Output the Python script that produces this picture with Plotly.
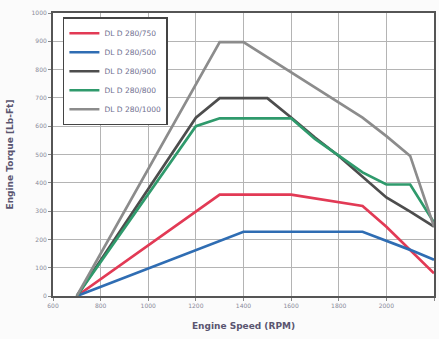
import plotly.graph_objs as go

# engine torque curves
series_names = ["DL D 280/750", "DL D 280/500", "DL D 280/900", "DL D 280/800", "DL D 280/1000"]
series_colors = ["#e23a55", "#2f6db3", "#4d4d4d", "#2f9a6c", "#8c8c8c"]

red_rpm = [700, 1300, 1600, 1900, 2000, 2200]
red_torque = [0, 358, 358, 318, 245, 80]

blue_rpm = [700, 1400, 1900, 2100, 2200]
blue_torque = [0, 227, 227, 163, 128]

black_rpm = [700, 1200, 1300, 1500, 1600, 1700, 1800, 1900, 2000, 2100, 2200]
black_torque = [0, 630, 699, 699, 631, 560, 495, 420, 348, 298, 245]

green_rpm = [700, 1200, 1300, 1600, 1700, 1800, 1900, 2000, 2100, 2200]
green_torque = [0, 600, 628, 628, 555, 497, 437, 394, 394, 260]

gray_rpm = [700, 1300, 1400, 1600, 1900, 2000, 2100, 2200]
gray_torque = [0, 897, 897, 791, 630, 565, 495, 245]

x_ticks = [600, 800, 1000, 1200, 1400, 1600, 1800, 2000, 2200]
y_ticks = [0, 100, 200, 300, 400, 500, 600, 700, 800, 900, 1000]


def TorqueChart(curves, title_x, title_y):
    """
    Line plot of torque curves

    Parameters
    ----------
    curves : list of (name, color, rpm, torque)
    title_x : string
    title_y : string

    Returns
    -------
    fig : plotly figure
    """
    data = []
    for name, color, rpm, torque in curves:
        data.append(go.Scatter(x=rpm, y=torque, name=name, mode="lines",
                               line=dict(color=color, width=2.7), cliponaxis=False))

    axis_common = dict(showgrid=True, gridcolor="#b4b4b4", gridwidth=1,
                       showline=True, linecolor="#555555", linewidth=2, mirror=True,
                       ticks="outside", ticklen=3, tickcolor="#888888",
                       tickfont=dict(size=6, color="#8a8a9a", family="DejaVu Sans"),
                       zeroline=False)

    xaxis = dict(axis_common, range=[600, 2200], tickvals=x_ticks,
                 title=dict(text=title_x, standoff=14,
                            font=dict(size=9, color="#5a5570", family="DejaVu Sans")))
    yaxis = dict(axis_common, range=[0, 1000], tickvals=y_ticks,
                 title=dict(text=title_y, standoff=16,
                            font=dict(size=9, color="#5a5570", family="DejaVu Sans")))

    layout = go.Layout(
        width=439, height=339,
        margin=dict(l=53, r=3, t=13, b=43),
        paper_bgcolor="#fbfbfb", plot_bgcolor="#ffffff",
        xaxis=xaxis, yaxis=yaxis,
        legend=dict(x=0.026, y=0.985, xanchor="left", yanchor="top",
                    bgcolor="#ffffff", bordercolor="#444444", borderwidth=1.5,
                    font=dict(size=7.5, color="#6f6f90", family="DejaVu Sans"),
                    tracegroupgap=0),
        showlegend=True,
    )
    return go.Figure(data=data, layout=layout)


curves = [
    (series_names[0], series_colors[0], red_rpm, red_torque),
    (series_names[1], series_colors[1], blue_rpm, blue_torque),
    (series_names[2], series_colors[2], black_rpm, black_torque),
    (series_names[3], series_colors[3], green_rpm, green_torque),
    (series_names[4], series_colors[4], gray_rpm, gray_torque),
]

fig = TorqueChart(curves, "<b>Engine Speed (RPM)</b>", "<b>Engine Torque [Lb-Ft]</b>")
fig.write_html("out.html", config={"displayModeBar": False},
               post_script="document.body.style.margin='0';")
